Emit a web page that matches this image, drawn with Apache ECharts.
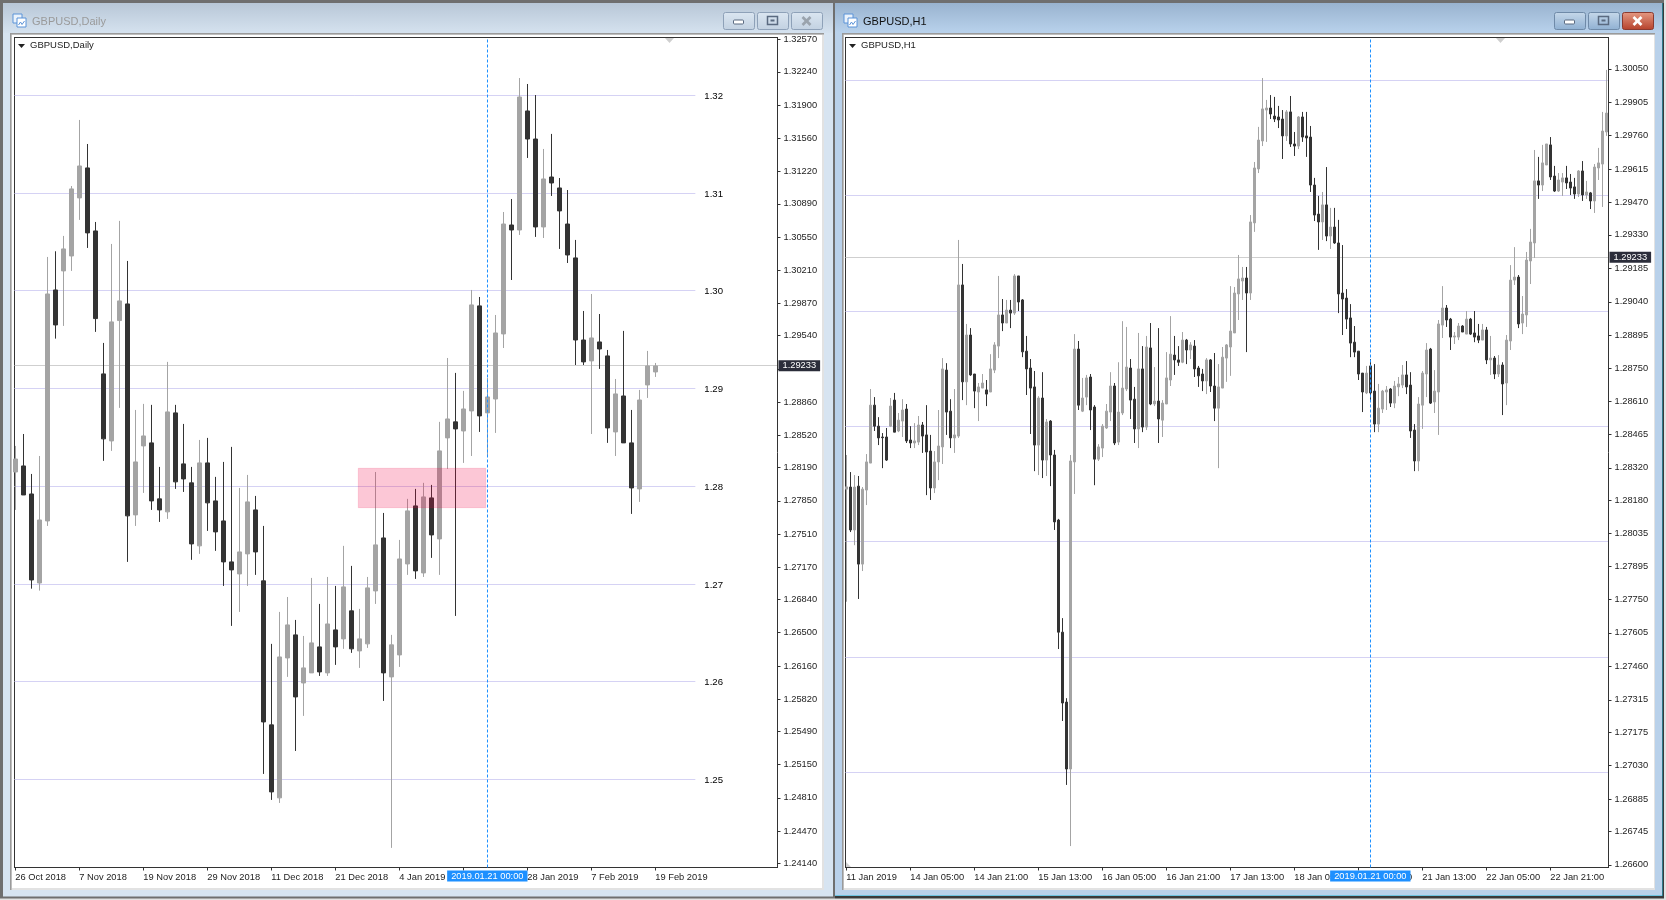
<!DOCTYPE html>
<html><head><meta charset="utf-8"><style>html,body{margin:0;padding:0;background:#fff}#c{width:1666px;height:900px}</style>
<script src="https://cdn.jsdelivr.net/npm/echarts@6/dist/echarts.min.js"></script></head><body><div id="c"></div>
<script>
// [open, close, low, high]
const dailyBars=[
[1.28145,1.28278,1.27757,1.28412],[1.28207,1.27910,1.27910,1.28534],[1.27920,1.27040,1.26951,1.28125],[1.27009,1.27654,1.26931,1.28309],
[1.27644,1.29967,1.27593,1.30346],[1.30008,1.29650,1.29510,1.30404],[1.30203,1.30428,1.29640,1.30561],[1.30356,1.31042,1.30203,1.31072],
[1.30950,1.31277,1.30725,1.31748],[1.31257,1.30592,1.30438,1.31502],[1.30612,1.29715,1.29579,1.30704],[1.29149,1.28484,1.28259,1.29466],
[1.28463,1.29681,1.28361,1.30479],[1.29695,1.29896,1.28801,1.30715],[1.29865,1.27696,1.27225,1.30305],[1.27706,1.28248,1.27593,1.28780],
[1.28412,1.28514,1.27931,1.28842],[1.28443,1.27849,1.27757,1.28832],[1.27870,1.27757,1.27634,1.28197],[1.27737,1.28760,1.27665,1.29272],
[1.28750,1.28044,1.27972,1.28832],[1.28228,1.28074,1.27941,1.28637],[1.28034,1.27409,1.27246,1.28197],[1.27389,1.28238,1.27307,1.28473],
[1.28238,1.27829,1.27542,1.28494],[1.27849,1.27532,1.27338,1.28095],[1.27644,1.27225,1.26979,1.28248],[1.27225,1.27143,1.26570,1.28402],
[1.27102,1.27327,1.26713,1.27982],[1.27307,1.27839,1.26979,1.28115],[1.27757,1.27327,1.27092,1.27900],[1.27031,1.25587,1.25055,1.27593],
[1.25557,1.24871,1.24789,1.26386],[1.24810,1.26252,1.24758,1.26713],[1.26242,1.26580,1.26048,1.26866],[1.26478,1.25843,1.25290,1.26631],
[1.25986,1.26140,1.25649,1.26467],[1.26089,1.26396,1.26089,1.27061],[1.26355,1.26099,1.26058,1.26795],[1.26089,1.26590,1.26058,1.27071],
[1.26529,1.26355,1.26171,1.26979],[1.26437,1.26969,1.26335,1.27389],[1.26724,1.26335,1.26294,1.27184],[1.26314,1.26437,1.26140,1.26744],
[1.26386,1.26959,1.26345,1.27071],[1.26928,1.27399,1.26795,1.28145],[1.27470,1.26089,1.25802,1.27726],[1.26048,1.26376,1.24298,1.26478],
[1.26273,1.27255,1.26150,1.27450],[1.27204,1.27747,1.27092,1.27870],[1.27798,1.27133,1.27051,1.27972],[1.27112,1.27890,1.27071,1.28034],
[1.27880,1.27501,1.27266,1.28013],[1.27460,1.28361,1.27092,1.28658],[1.28494,1.28688,1.28177,1.29312],[1.28658,1.28586,1.26672,1.29159],
[1.28565,1.28790,1.28238,1.28975],[1.28770,1.29855,1.28309,1.30008],[1.29845,1.28719,1.28555,1.29936],[1.28750,1.28913,1.28299,1.29107],
[1.28892,1.29568,1.28545,1.29752],[1.29558,1.30683,1.29414,1.30806],[1.30673,1.30622,1.30110,1.30939],[1.30622,1.31983,1.30571,1.32177],
[1.31840,1.31553,1.31359,1.32116],[1.31553,1.30653,1.30551,1.32003],[1.30653,1.31144,1.30540,1.31451],[1.31164,1.31103,1.30970,1.31605],
[1.31052,1.30817,1.30428,1.31154],[1.30683,1.30366,1.30284,1.31031],[1.30336,1.29496,1.29240,1.30520],[1.29496,1.29272,1.29240,1.29793],
[1.29282,1.29517,1.28534,1.29967],[1.29476,1.29404,1.29200,1.29762],[1.29333,1.28596,1.28443,1.29394],[1.28555,1.28944,1.28309,1.29097],
[1.28923,1.28443,1.28443,1.29589],[1.28443,1.27982,1.27716,1.28780],[1.27972,1.28882,1.27839,1.28985],[1.29036,1.29230,1.28903,1.29384],
[1.29169,1.29230,1.29118,1.29261]];
const h1Bars=[
[1.28228,1.28238,1.27740,1.28376],[1.28237,1.28051,1.28042,1.28302],[1.28051,1.28237,1.27985,1.28289],[1.28241,1.27903,1.27752,1.28285],
[1.27903,1.28228,1.27873,1.28237],[1.28224,1.28346,1.28159,1.28380],[1.28341,1.28592,1.28341,1.28662],[1.28592,1.28501,1.28480,1.28627],
[1.28501,1.28450,1.28419,1.28540],[1.28454,1.28451,1.28319,1.28471],[1.28454,1.28354,1.28350,1.28493],[1.28501,1.28588,1.28497,1.28623],
[1.28614,1.28475,1.28475,1.28645],[1.28480,1.28527,1.28475,1.28558],[1.28523,1.28571,1.28454,1.28618],[1.28575,1.28437,1.28428,1.28597],
[1.28441,1.28428,1.28406,1.28501],[1.28428,1.28437,1.28406,1.28514],[1.28432,1.28506,1.28419,1.28545],[1.28506,1.28458,1.28385,1.28519],
[1.28463,1.28389,1.28202,1.28592],[1.28393,1.28233,1.28181,1.28463],[1.28233,1.28346,1.28211,1.28393],[1.28346,1.28415,1.28267,1.28571],
[1.28411,1.28749,1.28337,1.28796],[1.28744,1.28562,1.28463,1.28774],[1.28566,1.28450,1.28406,1.28618],[1.28450,1.28463,1.28385,1.28662],
[1.28458,1.29113,1.28450,1.29308],[1.29113,1.28693,1.28614,1.29204],[1.28693,1.28896,1.28592,1.28944],[1.28896,1.28723,1.28719,1.28926],
[1.28727,1.28653,1.28579,1.28727],[1.28649,1.28671,1.28523,1.28688],[1.28666,1.28688,1.28666,1.28727],[1.28658,1.28640,1.28588,1.28701],
[1.28649,1.28749,1.28649,1.28813],[1.28744,1.28853,1.28731,1.28865],[1.28848,1.28983,1.28796,1.29152],[1.28983,1.28948,1.28913,1.29052],
[1.28948,1.29004,1.28948,1.29048],[1.29004,1.28991,1.28926,1.29048],[1.28991,1.29152,1.28983,1.29160],[1.29152,1.29039,1.29000,1.29152],
[1.29048,1.28823,1.28800,1.29052],[1.28826,1.28749,1.28636,1.28892],[1.28753,1.28666,1.28467,1.28792],[1.28671,1.28419,1.28306,1.28740],
[1.28419,1.28623,1.28289,1.28631],[1.28623,1.28354,1.28276,1.28735],[1.28354,1.28519,1.28285,1.28532],[1.28523,1.28376,1.28241,1.28527],
[1.28376,1.28086,1.28051,1.28398],[1.28094,1.27608,1.27535,1.28099],[1.27608,1.27301,1.27223,1.27669],[1.27305,1.27015,1.26946,1.27322],
[1.27015,1.28350,1.26681,1.28376],[1.28346,1.28835,1.28207,1.28900],[1.28835,1.28592,1.28571,1.28870],[1.28566,1.28623,1.28562,1.28710],
[1.28627,1.28710,1.28592,1.28723],[1.28714,1.28571,1.28484,1.28727],[1.28584,1.28358,1.28245,1.28592],[1.28358,1.28411,1.28350,1.28423],
[1.28406,1.28501,1.28367,1.28510],[1.28493,1.28566,1.28489,1.28597],[1.28562,1.28675,1.28523,1.28735],[1.28675,1.28428,1.28419,1.28688],
[1.28432,1.28562,1.28419,1.28778],[1.28558,1.28666,1.28549,1.28956],[1.28662,1.28757,1.28653,1.28931],[1.28753,1.28614,1.28532,1.28792],
[1.28618,1.28489,1.28428,1.28671],[1.28489,1.28749,1.28406,1.28905],[1.28749,1.28497,1.28475,1.28848],[1.28497,1.28844,1.28484,1.28892],
[1.28840,1.28597,1.28592,1.28948],[1.28597,1.28610,1.28588,1.28757],[1.28610,1.28532,1.28428,1.28926],[1.28527,1.28601,1.28454,1.28614],
[1.28597,1.28710,1.28597,1.28822],[1.28701,1.28813,1.28675,1.28978],[1.28809,1.28788,1.28723,1.28892],[1.28788,1.28778,1.28762,1.28848],
[1.28778,1.28874,1.28774,1.28909],[1.28874,1.28831,1.28770,1.28879],[1.28831,1.28853,1.28792,1.28865],[1.28848,1.28749,1.28714,1.28874],
[1.28753,1.28719,1.28671,1.28762],[1.28727,1.28697,1.28653,1.28749],[1.28697,1.28788,1.28640,1.28796],[1.28788,1.28675,1.28649,1.28792],
[1.28675,1.28579,1.28523,1.28818],[1.28579,1.28671,1.28319,1.28770],[1.28666,1.28800,1.28666,1.28844],[1.28796,1.28853,1.28693,1.28857],
[1.28844,1.28913,1.28719,1.29108],[1.28905,1.29078,1.28905,1.29104],[1.29074,1.29139,1.28961,1.29243],[1.29130,1.29143,1.29048,1.29191],
[1.29143,1.29078,1.28822,1.29191],[1.29078,1.29386,1.29048,1.29416],[1.29382,1.29620,1.29343,1.29646],[1.29616,1.29741,1.29598,1.29798],
[1.29737,1.29876,1.29715,1.30010],[1.29871,1.29880,1.29733,1.29915],[1.29880,1.29854,1.29832,1.29936],[1.29845,1.29832,1.29819,1.29928],
[1.29841,1.29828,1.29793,1.29889],[1.29832,1.29759,1.29659,1.29871],[1.29759,1.29863,1.29737,1.29871],[1.29863,1.29724,1.29711,1.29932],
[1.29724,1.29715,1.29672,1.29776],[1.29715,1.29841,1.29702,1.29845],[1.29841,1.29754,1.29733,1.29863],[1.29759,1.29750,1.29668,1.29863],
[1.29754,1.29546,1.29516,1.29802],[1.29546,1.29416,1.29390,1.29577],[1.29420,1.29386,1.29265,1.29499],[1.29386,1.29460,1.29308,1.29516],
[1.29460,1.29325,1.29303,1.29624],[1.29325,1.29364,1.29269,1.29447],[1.29364,1.29295,1.29291,1.29447],[1.29295,1.29074,1.28991,1.29395],
[1.29078,1.29052,1.28896,1.29286],[1.29056,1.28965,1.28922,1.29095],[1.28970,1.28861,1.28800,1.29030],[1.28865,1.28822,1.28800,1.28935],
[1.28826,1.28727,1.28701,1.28826],[1.28731,1.28649,1.28562,1.28731],[1.28645,1.28731,1.28640,1.28762],[1.28762,1.28645,1.28610,1.28792],
[1.28653,1.28510,1.28475,1.28770],[1.28510,1.28579,1.28475,1.28684],[1.28575,1.28653,1.28558,1.28658],[1.28649,1.28658,1.28571,1.28675],
[1.28662,1.28601,1.28584,1.28666],[1.28601,1.28675,1.28579,1.28697],[1.28671,1.28684,1.28631,1.28714],[1.28679,1.28723,1.28666,1.28766],
[1.28723,1.28671,1.28640,1.28783],[1.28679,1.28480,1.28450,1.28735],[1.28484,1.28350,1.28306,1.28510],[1.28350,1.28597,1.28306,1.28627],
[1.28592,1.28731,1.28489,1.28740],[1.28727,1.28831,1.28627,1.28861],[1.28835,1.28601,1.28597,1.28840],[1.28606,1.28653,1.28558,1.28744],
[1.28649,1.28944,1.28463,1.28961],[1.28939,1.29013,1.28883,1.29108],[1.29013,1.28961,1.28931,1.29026],[1.28965,1.28887,1.28831,1.28970],
[1.28887,1.28892,1.28857,1.28909],[1.28887,1.28935,1.28874,1.28948],[1.28935,1.28909,1.28909,1.28939],[1.28900,1.28965,1.28900,1.29000],
[1.28965,1.28900,1.28896,1.28970],[1.28905,1.28887,1.28865,1.29000],[1.28892,1.28874,1.28861,1.28944],[1.28874,1.28918,1.28874,1.28944],
[1.28918,1.28788,1.28770,1.28931],[1.28788,1.28796,1.28723,1.28892],[1.28796,1.28727,1.28705,1.28805],[1.28727,1.28766,1.28714,1.28809],
[1.28766,1.28684,1.28549,1.28778],[1.28688,1.28874,1.28592,1.28896],[1.28870,1.29134,1.28831,1.29199],[1.29134,1.29147,1.29113,1.29277],
[1.29147,1.28944,1.28926,1.29156],[1.28948,1.28987,1.28900,1.29065],[1.28983,1.29221,1.28931,1.29256],[1.29217,1.29299,1.29117,1.29356],
[1.29295,1.29564,1.29230,1.29698],[1.29564,1.29546,1.29486,1.29668],[1.29546,1.29642,1.29520,1.29720],[1.29633,1.29724,1.29633,1.29724],
[1.29720,1.29581,1.29568,1.29754],[1.29585,1.29520,1.29516,1.29629],[1.29520,1.29568,1.29516,1.29598],[1.29559,1.29577,1.29499,1.29598],
[1.29577,1.29555,1.29529,1.29629],[1.29559,1.29533,1.29503,1.29594],[1.29538,1.29507,1.29486,1.29577],[1.29507,1.29607,1.29494,1.29611],
[1.29607,1.29503,1.29477,1.29650],[1.29503,1.29516,1.29486,1.29564],[1.29512,1.29477,1.29442,1.29516],[1.29477,1.29624,1.29425,1.29637],
[1.29620,1.29642,1.29568,1.29707],[1.29637,1.29780,1.29451,1.29863],[1.29776,1.29858,1.29759,1.30045]];
const dailyTimeLabels=['26 Oct 2018','7 Nov 2018','19 Nov 2018','29 Nov 2018','11 Dec 2018','21 Dec 2018','4 Jan 2019','16 Jan 2019','28 Jan 2019','7 Feb 2019','19 Feb 2019'];
const h1TimeLabels=['11 Jan 2019','14 Jan 05:00','14 Jan 21:00','15 Jan 13:00','16 Jan 05:00','16 Jan 21:00','17 Jan 13:00','18 Jan 05:00','18 Jan 21:00','21 Jan 13:00','22 Jan 05:00','22 Jan 21:00'];
const dailyPriceTicks=[1.32570,1.32240,1.31900,1.31560,1.31220,1.30890,1.30550,1.30210,1.29870,1.29540,1.29200,1.28860,1.28520,1.28190,1.27850,1.27510,1.27170,1.26840,1.26500,1.26160,1.25820,1.25490,1.25150,1.24810,1.24470,1.24140];
const h1PriceTicks=[1.30050,1.29905,1.29760,1.29615,1.29470,1.29330,1.29185,1.29040,1.28895,1.28750,1.28610,1.28465,1.28320,1.28180,1.28035,1.27895,1.27750,1.27605,1.27460,1.27315,1.27175,1.27030,1.26885,1.26745,1.26600];
const dailyLevels=[1.32,1.31,1.30,1.29,1.28,1.27,1.26,1.25];
const h1Levels=[1.30,1.295,1.29,1.285,1.28,1.275,1.27];
const lastPrice=1.29233;
const cursorTimeLabel='2019.01.21 00:00';
const dailyCursorIndex=59, h1CursorIndex=131;
const dailyZone=[42.87,58.8,1.27780,1.28183];

const FONT='"Liberation Sans"', FS=9.3;
const DARK='#333333', GRAY='#a4a4a4', LEVEL='#d5d2f4', LASTC='#cfcfcf', BLUE='#1e90ff';

const panes=[
 {bars:dailyBars,labels:dailyTimeLabels,step:8,ticks:dailyPriceTicks,levels:dailyLevels,levelEnd:85,cursor:dailyCursorIndex,
  grid:{left:14.5,top:37.5,width:763,height:830},xr:[-0.104,95.27],yr:[1.240973,1.325918],bw:4},
 {bars:h1Bars,labels:h1TimeLabels,step:16,ticks:h1PriceTicks,levels:h1Levels,levelEnd:null,cursor:h1CursorIndex,
  grid:{left:845.5,top:37.5,width:763,height:830},xr:[-0.2075,190.54],yr:[1.265881,1.301855],bw:2}
];

const grids=[],xAxes=[],yAxes=[],series=[];
panes.forEach((p,k)=>{
 grids.push(p.grid);
 const xt=p.labels.map((_,i)=>i*p.step);
 xAxes.push({type:'value',gridIndex:k,min:p.xr[0],max:p.xr[1],z:1,splitLine:{show:false},
  axisLine:{show:true,onZero:false,lineStyle:{color:DARK,width:1}},
  axisTick:{show:true,length:3,customValues:xt,lineStyle:{color:DARK}},
  axisLabel:{show:true,customValues:xt,align:'left',margin:4,padding:[1,0,0,0],color:'#222',fontFamily:FONT,fontSize:FS,hideOverlap:false,
   formatter:v=>p.labels[Math.round(v/p.step)]}});
 yAxes.push({type:'value',gridIndex:k,position:'right',min:p.yr[0],max:p.yr[1],z:1,splitLine:{show:false},
  axisLine:{show:true,onZero:false,lineStyle:{color:DARK,width:1}},
  axisTick:{show:true,length:3,customValues:p.ticks,lineStyle:{color:DARK}},
  axisLabel:{show:true,customValues:p.ticks,margin:6,padding:[2,0,0,0],color:'#222',fontFamily:FONT,fontSize:FS,hideOverlap:false,
   formatter:v=>v.toFixed(5)}});
 const end=p.levelEnd==null?p.xr[1]:p.levelEnd;
 series.push({type:'line',xAxisIndex:k,yAxisIndex:k,data:[],z:1,silent:true,
  markLine:{z:1,silent:true,animation:false,symbol:['none','none'],
   data:p.levels.map(v=>[{xAxis:p.xr[0],yAxis:v,lineStyle:{color:LEVEL,width:1,type:'solid'},
     label:{show:p.levelEnd!=null,position:'end',distance:9,offset:[0,1],formatter:v.toFixed(2),color:'#000',fontFamily:FONT,fontSize:9.6}},
     {xAxis:end,yAxis:v}]).concat([[{xAxis:p.xr[0],yAxis:lastPrice,lineStyle:{color:LASTC,width:1,type:'solid'},label:{show:false}},{xAxis:p.xr[1],yAxis:lastPrice}]])}});
 series.push({type:'candlestick',xAxisIndex:k,yAxisIndex:k,z:2,barWidth:p.bw,silent:true,clip:true,
  data:p.bars.map((b,i)=>[i,b[0],b[1],b[2],b[3]]),
  itemStyle:{color:GRAY,color0:DARK,borderColor:GRAY,borderColor0:DARK,borderColorDoji:DARK,borderWidth:1}});
 const cursorLine=[{xAxis:p.cursor,yAxis:p.yr[0],lineStyle:{color:BLUE,width:1,type:[3,2]},
   label:{show:true,position:'start',distance:3,formatter:cursorTimeLabel,color:'#fff',backgroundColor:BLUE,padding:[1,4,1,4],fontFamily:FONT,fontSize:FS}},
   {xAxis:p.cursor,yAxis:p.yr[1]}];
 const priceTag=[{xAxis:p.xr[0],yAxis:lastPrice,lineStyle:{color:'rgba(0,0,0,0)',width:1,type:'solid'},
   label:{show:true,position:'end',distance:1,formatter:lastPrice.toFixed(5),color:'#fff',backgroundColor:'#2b2d3a',padding:[1,4,1,4],fontFamily:FONT,fontSize:FS}},
   {xAxis:p.xr[1],yAxis:lastPrice}];
 const top={type:'line',xAxisIndex:k,yAxisIndex:k,data:[],z:5,silent:true,
  markLine:{z:5,silent:true,animation:false,symbol:['none','none'],data:[cursorLine,priceTag]}};
 if(k===0) top.markArea={z:6,silent:true,animation:false,
   itemStyle:{color:'rgba(240,0,68,0.22)',borderColor:'rgba(240,0,68,0.14)',borderWidth:1},
   data:[[{xAxis:dailyZone[0],yAxis:dailyZone[3]},{xAxis:dailyZone[1],yAxis:dailyZone[2]}]]};
 series.push(top);
});

const R=(x,y,w,h,fill,extra)=>Object.assign({type:'rect',silent:true,shape:{x,y,width:w,height:h},style:{fill}},extra||{});
const G=(a,b)=>({type:'linear',x:0,y:0,x2:0,y2:1,colorStops:[{offset:0,color:a},{offset:1,color:b}]});
const T=(x,y,text,fill,font)=>({type:'text',silent:true,x,y,style:{text,fill,font,textVerticalAlign:'middle'}});
const TRI=(pts,fill)=>({type:'polygon',silent:true,shape:{points:pts},style:{fill}});
function button(x,w,top,bot,stroke,icon,iconc){
 const out=[{type:'rect',silent:true,shape:{x:x+.5,y:12.5,width:w,height:17,r:2},style:{fill:G(top,bot),stroke}}];
 const cx=x+w/2;
 if(icon==='min')out.push({type:'rect',silent:true,shape:{x:cx-5,y:20,width:10,height:4,r:1},style:{fill:'#fff',stroke:'#5a6a80'}});
 if(icon==='max')out.push({type:'rect',silent:true,shape:{x:cx-5,y:16.5,width:10,height:8},style:{fill:'none',stroke:'#5a6a80',lineWidth:1.5}},{type:'rect',silent:true,shape:{x:cx-2,y:19.5,width:4,height:2},style:{fill:'#5a6a80'}});
 if(icon==='x')out.push({type:'line',silent:true,shape:{x1:cx-4,y1:17,x2:cx+4,y2:25},style:{stroke:iconc,lineWidth:2.6}},{type:'line',silent:true,shape:{x1:cx+4,y1:17,x2:cx-4,y2:25},style:{stroke:iconc,lineWidth:2.6}});
 return out;
}
function icon(x,y,c){return [
 {type:'rect',silent:true,shape:{x:x,y:y,width:9,height:9},style:{fill:'#eaf2fb',stroke:c}},
 {type:'rect',silent:true,shape:{x:x+4,y:y+4,width:9,height:9},style:{fill:'#fff',stroke:c}},
 {type:'polyline',silent:true,shape:{points:[[x+5.5,y+11],[x+7.5,y+8],[x+9,y+10.5],[x+11.5,y+7]]},style:{stroke:c,fill:'none'}}];}
const chrome=[
 R(0,0,1666,900,'#e2e2e2'),
 R(0,0,835,898.5,'#6f6f6f'),
 R(3,3,830,893.5,'#d7e4f1'),
 R(3,3,830,30,G('#b8c7d7','#d5e2ef')),
 R(10,33,814,857,'#e2e2e2'), R(10,33,814,1.5,'#9a9a9a'), R(10,33,1.5,857,'#9a9a9a'), R(12,35,810,853,'#ffffff'),
 R(835,0,829,898.5,'#3a3a3a'),
 R(835,0,829,3,'#6f6f6f'),
 R(835,3,827.5,893,'#22b5d5'),
 R(835,3,827,892.5,'#b9d1ea'),
 R(835,3,827,30,G('#99b3cf','#b9d2ec')),
 R(842,33,813,857,'#e2e2e2'), R(842,33,813,1.5,'#9a9a9a'), R(842,33,1.5,857,'#9a9a9a'), R(844,35,810,853,'#ffffff'),
 R(14,37,764,1,DARK), R(14,37,1,831,DARK), R(845,37,764,1,DARK), R(845,37,1,831,DARK),
 ...icon(13,14,'#5b93d8'), ...icon(844,14,'#5b93d8'),
 T(32,21.5,'GBPUSD,Daily','#9a9a9a','11px '+FONT),
 T(863,21.5,'GBPUSD,H1','#111','11px '+FONT),
 T(30,45.5,'GBPUSD,Daily','#222','9.5px '+FONT),
 T(861,45.5,'GBPUSD,H1','#222','9.5px '+FONT),
 TRI([[18,44],[25,44],[21.5,48]],'#222'), TRI([[849,44],[856,44],[852.5,48]],'#222'),
 TRI([[665,38],[674,38],[669.5,43]],'#cfcfcf'), TRI([[1496,38],[1505,38],[1500.5,43]],'#cfcfcf'),
 TRI([[846,862],[846,867],[851,867]],'#d0d0d0'),
 ...button(723,31,'#dbe6f1','#c2d1e1','#8ea1b8','min'),
 ...button(757,31,'#dbe6f1','#c2d1e1','#8ea1b8','max'),
 ...button(791,31,'#dbe6f1','#c2d1e1','#8ea1b8','x','#9aa3ad'),
 ...button(1554,31,'#c6d8ea','#8fb0d2','#6f8aa8','min'),
 ...button(1588,31,'#c6d8ea','#8fb0d2','#6f8aa8','max'),
 ...button(1622,31,'#e59a84','#b5402a','#8a3a30','x','#fff')
];

const chart=echarts.init(document.getElementById('c'),null,{renderer:'canvas'});
chart.setOption({animation:false,backgroundColor:'#ffffff',textStyle:{fontFamily:FONT},grid:grids,xAxis:xAxes,yAxis:yAxes,series,graphic:{elements:chrome}});
</script></body></html>
